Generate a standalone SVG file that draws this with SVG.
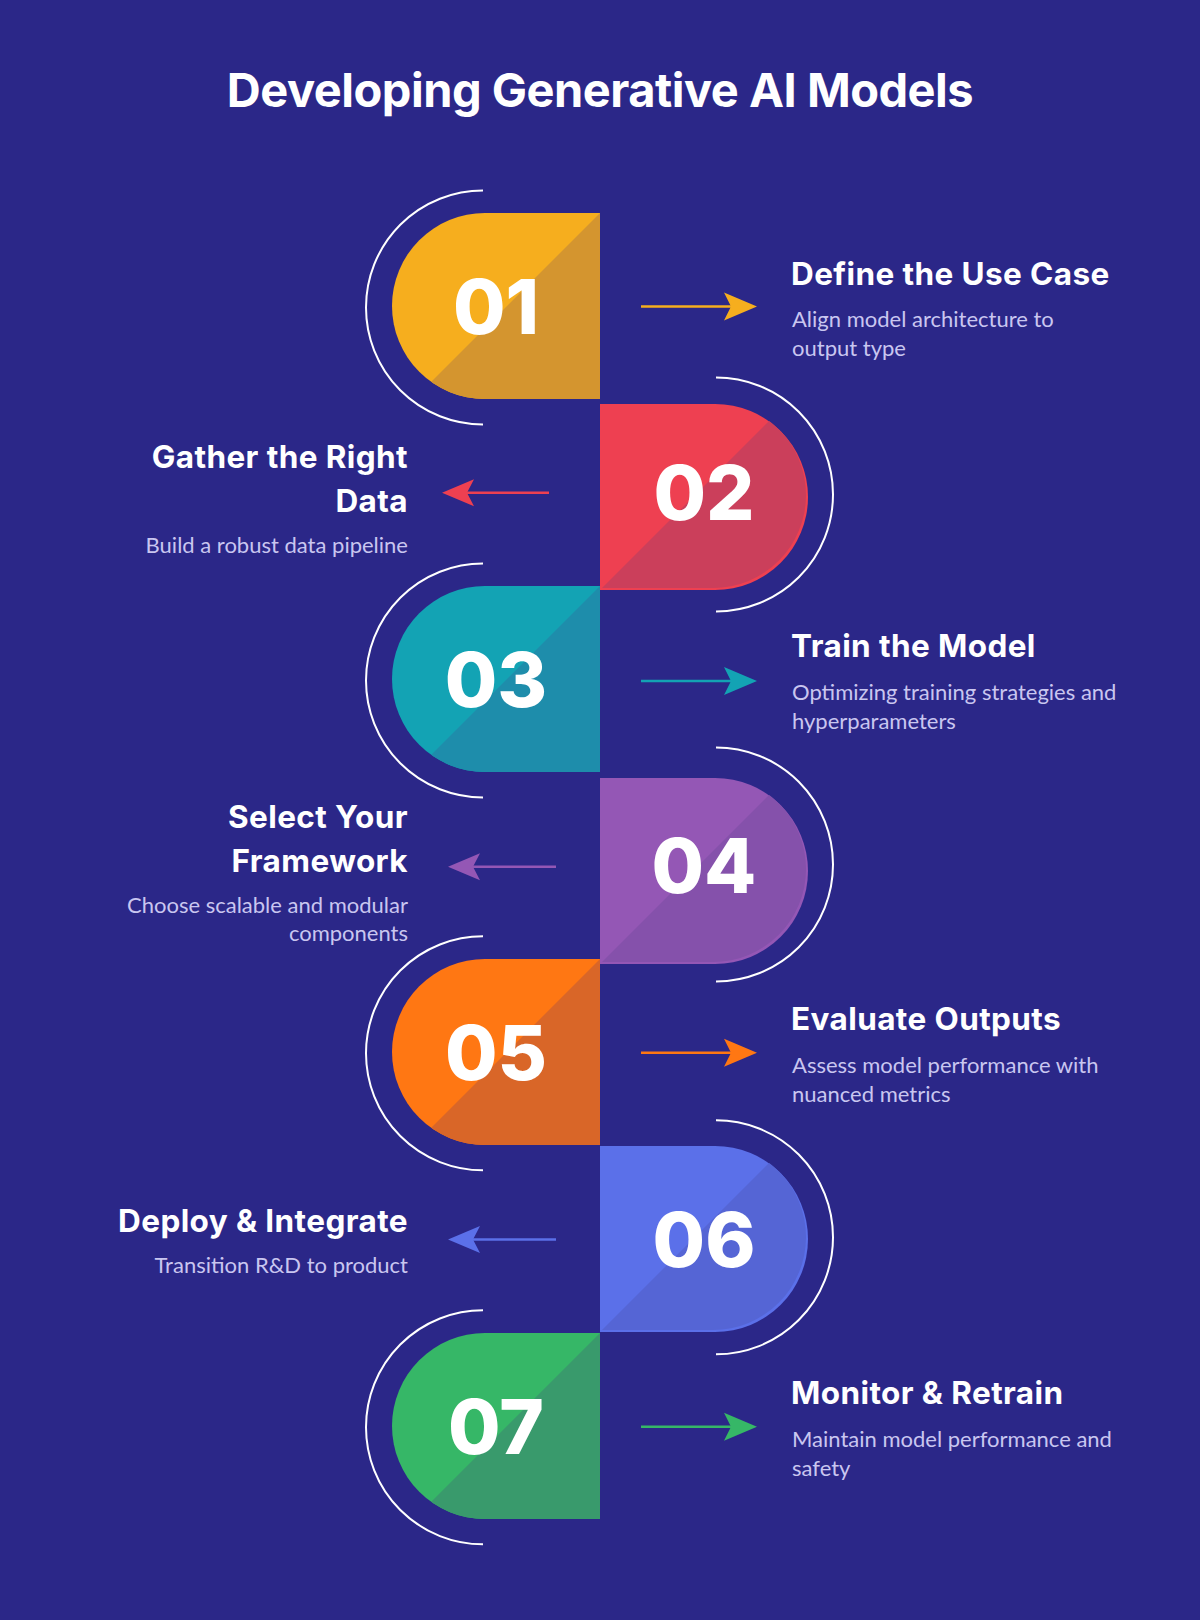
<svg xmlns="http://www.w3.org/2000/svg" width="1200" height="1620" viewBox="0 0 1200 1620">
<defs>
<style>
.title{font-family:Inter,"Noto Sans",sans-serif;font-weight:700;font-size:47px;fill:#fff;letter-spacing:-0.5px}
.num{font-family:Inter,"Noto Sans",sans-serif;font-weight:800;font-size:76px;fill:#fff;text-anchor:middle}
.head{font-family:Inter,"Noto Sans",sans-serif;font-weight:700;font-size:31.5px;fill:#fff;letter-spacing:0.4px}
.desc{font-family:Lato,"Open Sans",sans-serif;font-size:22px;fill:#C9C6F0}
.end{text-anchor:end}
.arc{fill:none;stroke:#fff;stroke-width:2}
.ln{stroke-width:2.5;fill:none}
</style>
<clipPath id="clipL" clipPathUnits="userSpaceOnUse"><path d="M600 0H485A93 93 0 0 0 485 186H600Z"/></clipPath>
<clipPath id="clipR" clipPathUnits="userSpaceOnUse"><path d="M598 -2H713A93 93 0 0 1 713 184H598Z"/></clipPath>
<path id="shapeL" d="M600 0H485A93 93 0 0 0 485 186H600Z"/>
<path id="shapeR" d="M600 0H715A93 93 0 0 1 715 186H600Z"/>
</defs>
<rect width="1200" height="1620" fill="#2B2788"/>
<text class="title" x="600" y="107" text-anchor="middle">Developing Generative AI Models</text>

<g id="connectors">
<g id="arrow-01"><line class="ln" x1="641" y1="306.5" x2="736" y2="306.5" stroke="#F6AE1E"/><path d="M757 306.5L724 292.5L731 306.5L724 320.5Z" fill="#F6AE1E"/></g>
<g id="arrow-02"><line class="ln" x1="549" y1="492.7" x2="460" y2="492.7" stroke="#EE4051"/><path d="M442 492.7L474 479.2L467 492.7L474 506.2Z" fill="#EE4051"/></g>
<g id="arrow-03"><line class="ln" x1="641" y1="681" x2="736" y2="681" stroke="#13A3B4"/><path d="M757 681L724 667L731 681L724 695Z" fill="#13A3B4"/></g>
<g id="arrow-04"><line class="ln" x1="556" y1="866.7" x2="466" y2="866.7" stroke="#9457B5"/><path d="M448 866.7L480 853.2L473 866.7L480 880.2Z" fill="#9457B5"/></g>
<g id="arrow-05"><line class="ln" x1="641" y1="1052.7" x2="736" y2="1052.7" stroke="#FF7713"/><path d="M757 1052.7L724 1038.7L731 1052.7L724 1066.7Z" fill="#FF7713"/></g>
<g id="arrow-06"><line class="ln" x1="556" y1="1239.5" x2="466" y2="1239.5" stroke="#5B70E9"/><path d="M448 1239.5L480 1226L473 1239.5L480 1253Z" fill="#5B70E9"/></g>
<g id="arrow-07"><line class="ln" x1="641" y1="1426.7" x2="736" y2="1426.7" stroke="#36B767"/><path d="M757 1426.7L724 1412.7L731 1426.7L724 1440.7Z" fill="#36B767"/></g>
</g>

<g id="step-01">
<path class="arc" d="M483 190.5A117 117 0 0 0 483 424.5"/>
<g transform="translate(0,213)"><use href="#shapeL" fill="#F6AE1E"/><polygon points="600,0 600,200 400,200" fill="#D4952F" clip-path="url(#clipL)"/></g>
<text class="num" x="496" y="334">01</text>
<text class="head" x="791" y="284.5">Define the Use Case</text>
<text class="desc" x="792" y="326.6">Align model architecture to</text>
<text class="desc" x="792" y="355.6">output type</text>
</g>

<g id="step-02">
<path class="arc" d="M716 377.5A117 117 0 0 1 716 611.5"/>
<g transform="translate(0,404)"><use href="#shapeR" fill="#EE4051"/><polygon points="600,186 800,-14 900,-14 900,300 600,300" fill="#CB3F5B" clip-path="url(#clipR)"/></g>
<text class="num" x="704" y="519.5">02</text>
<text class="head end" x="408" y="468">Gather the Right</text>
<text class="head end" x="408" y="511.5">Data</text>
<text class="desc end" x="408" y="553">Build a robust data pipeline</text>
</g>

<g id="step-03">
<path class="arc" d="M483 563.5A117 117 0 0 0 483 797.5"/>
<g transform="translate(0,586)"><use href="#shapeL" fill="#13A3B4"/><polygon points="600,0 600,200 400,200" fill="#1E8DAB" clip-path="url(#clipL)"/></g>
<text class="num" x="496" y="706.5">03</text>
<text class="head" x="791" y="657">Train the Model</text>
<text class="desc" x="792" y="699.5">Optimizing training strategies and</text>
<text class="desc" x="792" y="728.5">hyperparameters</text>
</g>

<g id="step-04">
<path class="arc" d="M716 747.5A117 117 0 0 1 716 981.5"/>
<g transform="translate(0,778)"><use href="#shapeR" fill="#9457B5"/><polygon points="600,186 800,-14 900,-14 900,300 600,300" fill="#8551AB" clip-path="url(#clipR)"/></g>
<text class="num" x="704" y="893">04</text>
<text class="head end" x="408" y="827.5">Select Your</text>
<text class="head end" x="408" y="871.5">Framework</text>
<text class="desc end" x="408" y="912.7">Choose scalable and modular</text>
<text class="desc end" x="408" y="940.7">components</text>
</g>

<g id="step-05">
<path class="arc" d="M483 936.3A117 117 0 0 0 483 1170.3"/>
<g transform="translate(0,959)"><use href="#shapeL" fill="#FF7713"/><polygon points="600,0 600,200 400,200" fill="#D96628" clip-path="url(#clipL)"/></g>
<text class="num" x="496" y="1080">05</text>
<text class="head" x="791" y="1030">Evaluate Outputs</text>
<text class="desc" x="792" y="1073">Assess model performance with</text>
<text class="desc" x="792" y="1102">nuanced metrics</text>
</g>

<g id="step-06">
<path class="arc" d="M716 1120.3A117 117 0 0 1 716 1354.3"/>
<g transform="translate(0,1146)"><use href="#shapeR" fill="#5B70E9"/><polygon points="600,186 800,-14 900,-14 900,300 600,300" fill="#5565D5" clip-path="url(#clipR)"/></g>
<text class="num" x="704" y="1266.5">06</text>
<text class="head end" x="408" y="1232">Deploy &amp; Integrate</text>
<text class="desc end" x="408" y="1272.7">Transition R&amp;D to product</text>
</g>

<g id="step-07">
<path class="arc" d="M483 1310.3A117 117 0 0 0 483 1544.3"/>
<g transform="translate(0,1333)"><use href="#shapeL" fill="#36B767"/><polygon points="600,0 600,200 400,200" fill="#399A6C" clip-path="url(#clipL)"/></g>
<text class="num" x="496" y="1454">07</text>
<text class="head" x="791" y="1404">Monitor &amp; Retrain</text>
<text class="desc" x="792" y="1447">Maintain model performance and</text>
<text class="desc" x="792" y="1476">safety</text>
</g>
</svg>
